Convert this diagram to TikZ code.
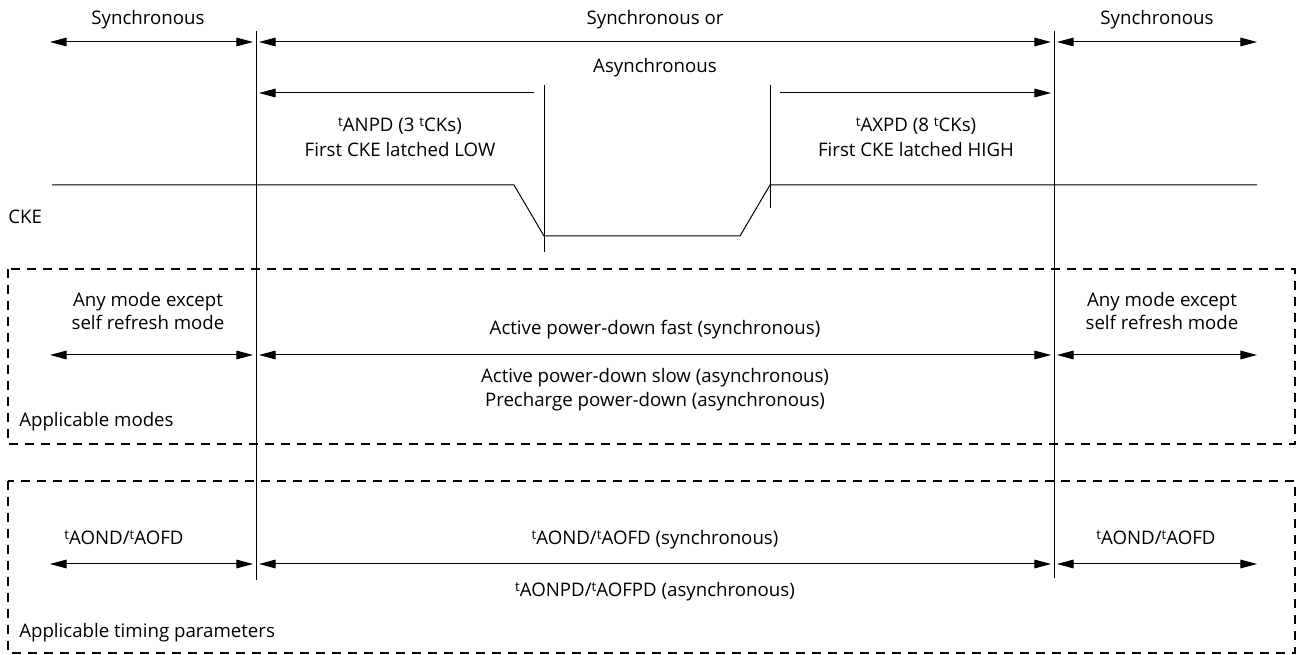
\documentclass[tikz,border=0pt]{standalone}
\usepackage{fontspec}
\setmainfont{Open Sans}
\usetikzlibrary{arrows.meta}
\tikzset{
  lbl/.style={inner sep=0pt, anchor=base, font=\fontsize{14}{17.25}\selectfont},
  lblw/.style={inner sep=0pt, anchor=base west, font=\fontsize{14}{17.25}\selectfont},
  line/.style={line width=0.75pt},
  dim/.style={line width=0.75pt, -{Triangle[length=12.5pt,width=6.5pt]}},
  ddim/.style={line width=0.75pt, {Triangle[length=12.5pt,width=6.5pt]}-{Triangle[length=12.5pt,width=6.5pt]}},
  dbox/.style={line width=1.5pt, dash pattern=on 7pt off 5pt},
}
\newcommand{\tsup}{\raisebox{4.2pt}{\fontsize{10}{10}\selectfont t}}
\begin{document}
\begin{tikzpicture}[x=0.75pt,y=-0.75pt]
\useasboundingbox (0,0) rectangle (1297,655);
% dashed boxes
\draw[dbox] (8,269) rectangle (1295,444);
\draw[dbox] (8,481) rectangle (1295,653);
% vertical boundaries
\coordinate (L1) at (256,31); \coordinate (L2) at (256,580);
\coordinate (R1) at (1054,31); \coordinate (R2) at (1054,578);
\draw[line] (L1) -- (L2);
\draw[line] (R1) -- (R2);
\coordinate (M1) at (544,85); \coordinate (M2) at (544,252);
\coordinate (N1) at (770,85); \coordinate (N2) at (770,208);
\draw[line] (M1) -- (M2);
\draw[line] (N1) -- (N2);
% row arrows
\foreach \yy/\nm in {42/a,355/b,564/c}{
  \coordinate (\nm0) at (50,\yy);
  \coordinate (\nm1) at (253,\yy);
  \coordinate (\nm2) at (259,\yy);
  \coordinate (\nm3) at (1051,\yy);
  \coordinate (\nm4) at (1057,\yy);
  \coordinate (\nm5) at (1257,\yy);
  \draw[ddim] (\nm0) -- (\nm1);
  \draw[ddim] (\nm2) -- (\nm3);
  \draw[ddim] (\nm4) -- (\nm5);
}
\coordinate (p0) at (534,93); \coordinate (p1) at (259,93);
\coordinate (q0) at (780,93); \coordinate (q1) at (1051,93);
\draw[dim] (p0) -- (p1);
\draw[dim] (q0) -- (q1);
% CKE waveform
\coordinate (w0) at (52,185); \coordinate (w1) at (514,185);
\coordinate (w2) at (544,236); \coordinate (w3) at (740,236);
\coordinate (w4) at (770,185); \coordinate (w5) at (1257,185);
\draw[line] (w0) -- (w1) -- (w2) -- (w3) -- (w4) -- (w5);
% labels
\node[lbl] (t1) at (148,25) {Synchronous};
\node[lbl] (t2) at (655,25) {Synchronous or};
\node[lbl] (t3) at (655,73) {Asynchronous};
\node[lbl] (t4) at (1157,25) {Synchronous};
\node[lbl] (t5) at (400,132) {\tsup ANPD (3 \tsup CKs)};
\node[lbl] (t6) at (400,157) {First CKE latched LOW};
\node[lbl] (t7) at (916,132) {\tsup AXPD (8 \tsup CKs)};
\node[lbl] (t8) at (916,157) {First CKE latched HIGH};
\node[lblw] (cke) at (8,224) {CKE};
\node[lbl] (m1) at (148,307) {Any mode except};
\node[lbl] (m2) at (148,330) {self refresh mode};
\node[lbl] (m3) at (1162,307) {Any mode except};
\node[lbl] (m4) at (1162,330) {self refresh mode};
\node[lbl] (m5) at (655,335) {Active power-down fast (synchronous)};
\node[lbl] (m6) at (655,383) {Active power-down slow (asynchronous)};
\node[lbl] (m7) at (655,407) {Precharge power-down (asynchronous)};
\node[lblw] (m8) at (19,427) {Applicable modes};
\node[lbl] (p1t) at (124,545) {\tsup AOND/\tsup AOFD};
\node[lbl] (p2t) at (655,545) {\tsup AOND/\tsup AOFD (synchronous)};
\node[lbl] (p3t) at (1156,545) {\tsup AOND/\tsup AOFD};
\node[lbl] (p4t) at (655,597) {\tsup AONPD/\tsup AOFPD (asynchronous)};
\node[lblw] (p5t) at (19,638) {Applicable timing parameters};
\end{tikzpicture}
\end{document}
